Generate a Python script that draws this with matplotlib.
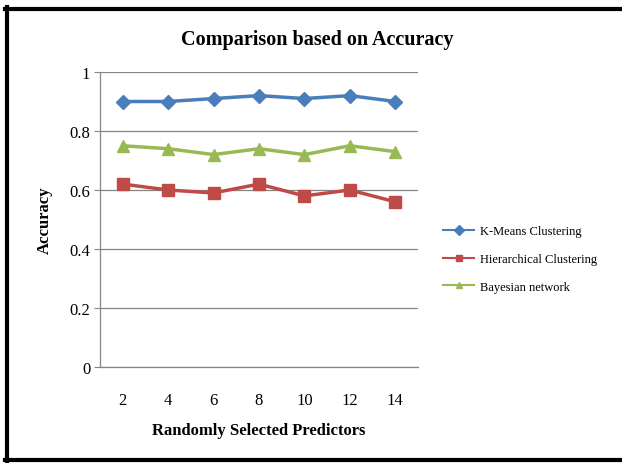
import matplotlib
matplotlib.use("Agg")
import matplotlib.pyplot as plt
from matplotlib.lines import Line2D

categories = ["2", "4", "6", "8", "10", "12", "14"]
kmeans = [0.90, 0.90, 0.91, 0.92, 0.91, 0.92, 0.90]
hier = [0.62, 0.60, 0.59, 0.62, 0.58, 0.60, 0.56]
bayes = [0.75, 0.74, 0.72, 0.74, 0.72, 0.75, 0.73]
yticks = [0, 0.2, 0.4, 0.6, 0.8, 1]
ytick_labels = ["0", "0.2", "0.4", "0.6", "0.8", "1"]

plt.rcParams['font.family'] = ['Liberation Serif', 'DejaVu Serif']

fig = plt.figure(figsize=(6.22, 4.64), dpi=100)
ax = fig.add_axes([100/622, 1-368/464, 318/622, (368-73)/464])

x = list(range(len(categories)))
ax.plot(x, kmeans, color='#4A7EBB', lw=2.5, marker='D', ms=7, label='K-Means Clustering')
ax.plot(x, hier, color='#BE4B48', lw=2.5, marker='s', ms=8, label='Hierarchical Clustering')
ax.plot(x, bayes, color='#98B954', lw=2.5, marker='^', ms=9, label='Bayesian network')

ax.set_xlim(-0.5, 6.5)
ax.set_ylim(0, 1)
ax.set_yticks(yticks)
ax.set_yticklabels(ytick_labels, fontsize=12)
ax.set_xticks(x)
ax.set_xticklabels(categories, fontsize=12)
ax.tick_params(axis='x', length=0, pad=18)
ax.tick_params(axis='y', length=4, color='#868686', pad=3, direction='out')
ax.yaxis.grid(True, color='#868686', lw=0.9)
ax.set_axisbelow(True)
for s in ['top', 'right']:
    ax.spines[s].set_visible(False)
for s in ['left', 'bottom']:
    ax.spines[s].set_color('#868686')
    ax.spines[s].set_linewidth(0.9)

ax.set_ylabel('Accuracy', fontsize=12, fontweight='bold', labelpad=12)
ax.set_xlabel('Randomly Selected Predictors', fontsize=12, fontweight='bold', labelpad=10)
fig.text(0.51, 1-40/464, 'Comparison based on Accuracy', fontsize=14.5, fontweight='bold',
         ha='center', va='center')

leg = fig.legend(loc='center left', bbox_to_anchor=(438/622, 1-260/464), frameon=False,
                 fontsize=9, handlelength=2.5, handletextpad=0.5, labelspacing=1.25,
                 borderaxespad=0)
for h in leg.legend_handles:
    h.set_linewidth(1.5)
    h.set_markersize(5)

# border
fig.add_artist(Line2D([5/622, 1], [1-9.5/464, 1-9.5/464], color='black', lw=3, transform=fig.transFigure))
fig.add_artist(Line2D([7/622, 7/622], [1-8/464, 1-462/464], color='black', lw=3, transform=fig.transFigure))
fig.add_artist(Line2D([5/622, 1], [1-460.5/464, 1-460.5/464], color='black', lw=3, transform=fig.transFigure))

fig.savefig('out.png', dpi=100)
